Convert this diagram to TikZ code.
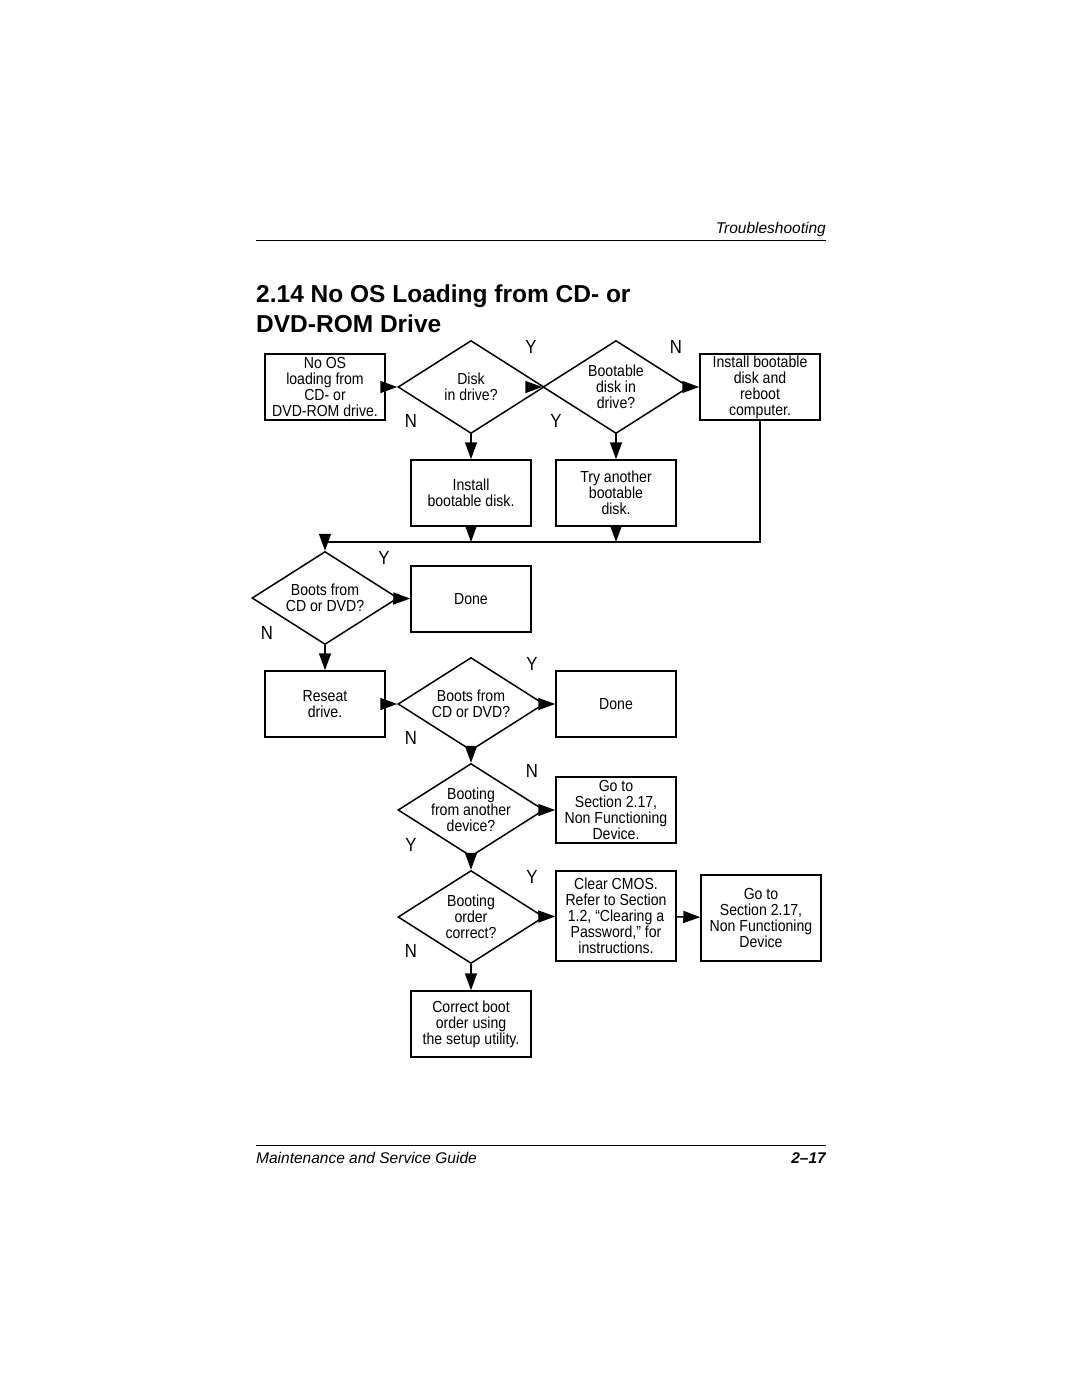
\documentclass[tikz,border=0pt]{standalone}
\usepackage{fontspec}
\setmainfont{Liberation Sans}
\newfontfamily\condfont{Liberation Sans}[FakeStretch=0.88]
\usetikzlibrary{shapes.geometric,arrows.meta}

\tikzset{
	box/.style={draw, line width=1.5pt, minimum width=120pt, minimum height=66pt, inner sep=0pt, align=center, font=\condfont\fontsize{16}{16}\selectfont},
	decision/.style={draw, diamond, line width=1.5pt, minimum width=146pt, minimum height=93pt, inner sep=-6pt, aspect=1.55, align=center, font=\condfont\fontsize{16}{16}\selectfont},
	arr/.style={line width=1.5pt, -{Triangle[length=17pt,width=12pt]}},
	yn/.style={font=\condfont\fontsize{19}{19}\selectfont, inner sep=0pt},
	rulelw/.style={line width=1pt}
}

\begin{document}
\begin{tikzpicture}[x=1pt, y=-1pt]
			\fill[white] (0,0) rectangle (1080,1397);
			\useasboundingbox (0,0) rectangle (1080,1397);
			
			\node[anchor=base east, font=\itshape\fontsize{15.5}{16}\selectfont, inner sep=0pt] (head) at (826, 233) {Troubleshooting};
			\draw[rulelw] (256, 240) -- (826, 240);
			
			\node[anchor=base west, font=\bfseries\fontsize{24.5}{30}\selectfont, inner sep=0pt] (title1) at (256, 302) {2.14 No OS Loading from CD- or};
			\node[anchor=base west, font=\bfseries\fontsize{24.5}{30}\selectfont, inner sep=0pt] (title2) at (256, 332) {DVD-ROM Drive};
			
			\node[box] (noos)     at (325, 387)  {No OS\\loading from\\CD- or\\DVD-ROM drive.};
			\node[decision] (disk)     at (471, 387)  {Disk\\in drive?};
			\node[decision] (bootable) at (616, 387)  {Bootable\\disk in\\drive?};
			\node[box] (reboot)   at (760, 387)  {Install bootable\\disk and\\reboot\\computer.};
			
			\node[box] (install)  at (471, 493)  {Install\\bootable disk.};
			\node[box] (another)  at (616, 493)  {Try another\\bootable\\disk.};
			
			\coordinate (mergeL) at (325, 542);
			\coordinate (mergeR) at (760, 542);
			
			\node[decision] (boots1)   at (325, 598)  {Boots from\\CD or DVD?};
			\node[box] (done1)    at (471, 599)  {Done};
			
			\node[box] (reseat)   at (325, 704)  {Reseat\\drive.};
			\node[decision] (boots2)   at (471, 704)  {Boots from\\CD or DVD?};
			\node[box] (done2)    at (616, 704)  {Done};
			
			\node[decision] (other)    at (471, 810)  {Booting\\from another\\device?};
			\node[box] (goto1)    at (616, 810)  {Go to\\Section 2.17,\\Non Functioning\\Device.};
			
			\node[decision] (order)    at (471, 917)  {Booting\\order\\correct?};
			\node[box, minimum height=90pt] (cmos) at (616, 916)  {Clear CMOS.\\Refer to Section\\1.2, “Clearing a\\Password,” for\\instructions.};
			\node[box, minimum height=86pt] (goto2) at (761, 918)  {Go to\\Section 2.17,\\Non Functioning\\Device};
			
			\node[box] (setup)    at (471, 1024) {Correct boot\\order using\\the setup utility.};
			
			\node[yn] (y1) at (531, 347) {Y};
			\node[yn] (n1) at (676, 347) {N};
			\node[yn] (n2) at (411, 421) {N};
			\node[yn] (y2) at (556, 421) {Y};
			\node[yn] (y3) at (384, 558) {Y};
			\node[yn] (n3) at (267, 633) {N};
			\node[yn] (y4) at (532, 664) {Y};
			\node[yn] (n4) at (411, 738) {N};
			\node[yn] (n5) at (532, 771) {N};
			\node[yn] (y5) at (411, 845) {Y};
			\node[yn] (y6) at (532, 877) {Y};
			\node[yn] (n6) at (411, 951) {N};
			
			\draw[arr] (noos) -- (disk);
			\draw[arr] ([xshift=-18pt]disk.east) -- (bootable.west);
			\draw[arr] (bootable) -- (reboot);
			\draw[arr] (disk) -- (install);
			\draw[arr] (bootable) -- (another);
			\draw[arr] (install) -- (install |- mergeL);
			\draw[arr] (another) -- (another |- mergeL);
			\draw[arr] (reboot) -- (mergeR) -- (mergeL) -- (boots1);
			
			\draw[arr] (boots1) -- (done1);
			\draw[arr] (boots1) -- (reseat);
			\draw[arr] (reseat) -- (boots2);
			\draw[arr] (boots2) -- (done2);
			\draw[arr] (boots2) -- (other);
			\draw[arr] (other) -- (goto1);
			\draw[arr] (other) -- (order);
			\draw[arr] (order) -- (cmos);
			\draw[arr] (cmos) -- (goto2);
			\draw[arr] (order) -- (setup);
			
			\draw[rulelw] (256, 1145) -- (826, 1145);
			\node[anchor=base west, font=\itshape\fontsize{15.5}{16}\selectfont, inner sep=0pt] (guide) at (256, 1163) {Maintenance and Service Guide};
			\node[anchor=base east, font=\bfseries\itshape\fontsize{15.5}{16}\selectfont, inner sep=0pt] (page) at (826, 1163) {2--17};
		\end{tikzpicture}
\end{document}
